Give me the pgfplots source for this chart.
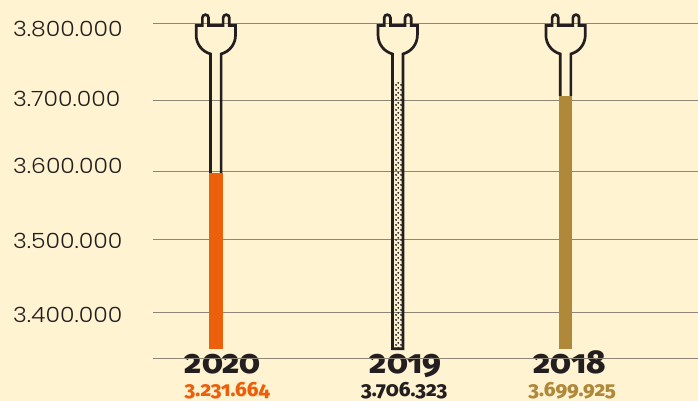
\documentclass[border=0pt]{standalone}
\usepackage{pgfplots}
\pgfplotsset{compat=1.18}
\usepackage{fontspec}
\usetikzlibrary{patterns}
\setmainfont{Poppins}
\newfontfamily\lightf[FakeStretch=1.12]{Poppins Light}
\newfontfamily\boldf[Numbers=OldStyle,UprightFont=*,BoldFont=* ExtraBold]{Fira Sans}
\definecolor{bgc}{HTML}{FFF3D1}
\definecolor{ink}{HTML}{231F20}
\definecolor{gridc}{HTML}{8C8676}
\definecolor{org}{HTML}{EC5F0B}
\definecolor{ochre}{HTML}{B0883A}
\pgfdeclarepatternformonly{plugdots}{\pgfqpoint{0pt}{0pt}}{\pgfqpoint{4.6pt}{4.6pt}}{\pgfqpoint{4.6pt}{4.6pt}}{
  \pgfpathcircle{\pgfqpoint{1.1pt}{1.1pt}}{1.1pt}
  \pgfpathcircle{\pgfqpoint{3.4pt}{3.4pt}}{1.1pt}
  \pgfusepath{fill}}
\newcommand{\plugpath}[3]{% cx, neck bottom, closing
  \begin{scope}[x=1pt,y=-1pt,shift={(#1pt,401pt)}]
    \draw[ink,line width=2.7pt,line join=miter]
      (-5.3,#2) -- (-5.3,54)
      .. controls (-14,51.5) and (-19.7,44) .. (-19.7,35)
      -- (-19.7,25.5) -- (-13.5,25.5) -- (-13.5,17.8)
      arc[start angle=180,end angle=360,radius=3.1] -- (-7.3,25.5)
      -- (7.3,25.5) -- (7.3,17.8)
      arc[start angle=180,end angle=360,radius=3.1] -- (13.5,25.5)
      -- (19.7,25.5) -- (19.7,35)
      .. controls (19.7,44) and (14,51.5) .. (5.3,54)
      -- (5.3,#2) #3;
  \end{scope}}
\begin{document}
\begin{tikzpicture}[x=1pt,y=1pt]
\begin{axis}[
  at={(0,0)},anchor=south west,
  scale only axis,width=698pt,height=401pt,
  xmin=0,xmax=698,ymin=3278630,ymax=3832459,
  axis background/.style={fill=bgc},
  axis line style={draw=none},
  tick style={draw=none},
  scaled y ticks=false,
  xtick={223,406,570},
  xticklabels={2020,2019,2018},
  xticklabel style={font=\boldf\bfseries\fontsize{33}{33}\selectfont,text=ink,anchor=base,yshift=27pt,inner sep=0pt},
  ytick={3792000,3696000,3603000,3499000,3397000},
  yticklabels={3.800.000,3.700.000,3.600.000,3.500.000,3.400.000},
  yticklabel style={font=\lightf\fontsize{21}{21}\selectfont,text=ink,anchor=west,xshift=13pt,inner sep=0pt},
  clip=false,
]
% grid lines
\addplot[gridc,line width=1pt] coordinates {(153,3800000)(698,3800000)};
\addplot[gridc,line width=1pt] coordinates {(153,3694000)(698,3694000)};
\addplot[gridc,line width=1pt] coordinates {(153,3596000)(698,3596000)};
\addplot[gridc,line width=1pt] coordinates {(153,3502000)(698,3502000)};
\addplot[gridc,line width=1pt] coordinates {(153,3400000)(698,3400000)};
\addplot[gridc,line width=1pt] coordinates {(153,3337000)(698,3337000)};
% bars
\addplot[fill=org,draw=none] coordinates {(209.3,3350400)(209.3,3593500)(222.7,3593500)(222.7,3350400)} -- cycle;
\addplot[pattern=plugdots,pattern color=ink,draw=none] coordinates {(393,3350400)(393,3719000)(403,3719000)(403,3350400)} -- cycle;
\addplot[fill=ochre,draw=none] coordinates {(559.3,3350400)(559.3,3699900)(572.7,3699900)(572.7,3350400)} -- cycle;
\node[font=\boldf\bfseries\fontsize{20.5}{20.5}\selectfont,text=org,inner sep=0pt,anchor=base] at (axis cs:227.5,3284800) {3.231.664};
\node[font=\boldf\bfseries\fontsize{20.5}{20.5}\selectfont,text=ink,inner sep=0pt,anchor=base] at (axis cs:404.5,3284800) {3.706.323};
\node[font=\boldf\bfseries\fontsize{20.5}{20.5}\selectfont,text=ochre,inner sep=0pt,anchor=base] at (axis cs:572.5,3284800) {3.699.925};
\end{axis}
\plugpath{216}{173}{}
\plugpath{398}{349}{-- cycle}
\plugpath{566}{96}{}
\end{tikzpicture}
\end{document}
